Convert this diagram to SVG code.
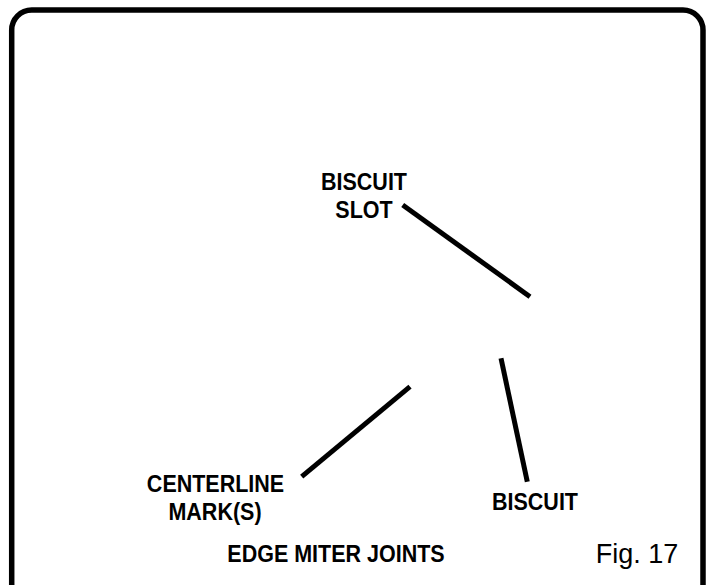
<svg xmlns="http://www.w3.org/2000/svg" width="707" height="585" viewBox="0 0 707 585">
<style>
.lbl{font-family:"Liberation Sans",Arial,sans-serif;font-weight:bold;font-size:21.5px;fill:#000;text-anchor:middle}
.fig{font-family:"Liberation Sans",Arial,sans-serif;font-size:27px;fill:#000;text-anchor:middle}
.ld{stroke:#000;stroke-width:5;fill:none}
</style>
<rect x="0" y="0" width="707" height="585" fill="#fff"/>
<path d="M11.7 600 V30 A20 20 0 0 1 31.7 10 H683 A20 20 0 0 1 703 30 V600" fill="none" stroke="#000" stroke-width="5.5"/>
<g id="connectors">
<line class="ld" x1="402.7" y1="205" x2="530" y2="296.7"/>
<line class="ld" x1="301.7" y1="476.7" x2="410" y2="386.7"/>
<line class="ld" x1="501" y1="358.3" x2="527.3" y2="481.7"/>
</g>
<g id="biscuit-slot">
<text class="lbl" transform="translate(364 190) scale(1 1.15)">BISCUIT</text>
<text class="lbl" transform="translate(364 218) scale(1 1.15)">SLOT</text>
</g>
<g id="centerline-marks">
<text class="lbl" transform="translate(215.5 491.5) scale(1 1.15)">CENTERLINE</text>
<text class="lbl" transform="translate(215 520) scale(1 1.15)">MARK(S)</text>
</g>
<g id="biscuit">
<text class="lbl" transform="translate(535 510) scale(1 1.15)">BISCUIT</text>
</g>
<g id="title">
<text class="lbl" transform="translate(336 562) scale(1 1.15)">EDGE MITER JOINTS</text>
<text class="fig" x="637" y="563">Fig. 17</text>
</g>
</svg>
